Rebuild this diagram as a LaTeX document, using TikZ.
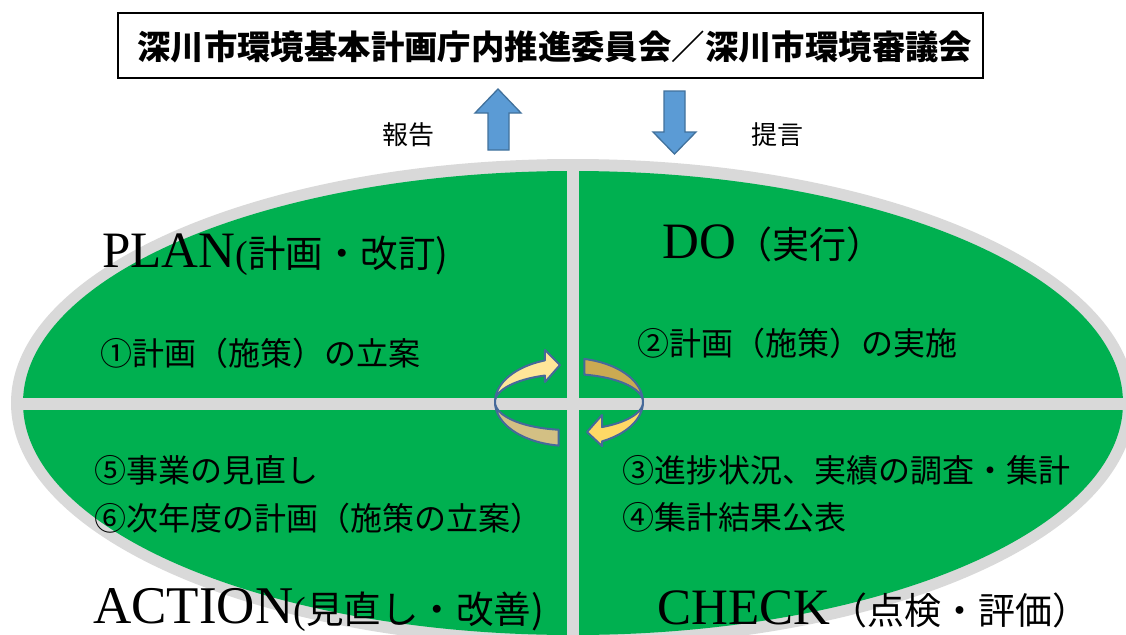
\documentclass[tikz,border=0pt]{standalone}
\usepackage{fontspec}
\setmainfont{Liberation Serif}
\newfontfamily\jp{Noto Sans CJK JP}
\definecolor{pgreen}{HTML}{00B050}
\definecolor{egrey}{HTML}{D9D9D9}
\definecolor{arrblue}{HTML}{5B9BD5}
\definecolor{arrline}{HTML}{41719C}
\definecolor{ringline}{HTML}{46699A}
\definecolor{lyellow}{HTML}{FFE699}
\definecolor{ltan}{HTML}{D3C084}
\definecolor{ryellow}{HTML}{FFD966}
\definecolor{rtan}{HTML}{CBAA52}
\tikzset{
  body/.style={anchor=west, inner sep=0pt, font=\jp\fontsize{32}{38}\selectfont},
  headline/.style={anchor=base west, inner sep=0pt},
  sidelabel/.style={inner sep=0pt, font=\jp\fontsize{26}{30}\selectfont},
  blockarrow/.style={fill=arrblue, draw=arrline, line width=1.3pt, line join=miter},
}
\newcommand{\bigL}{\fontsize{51}{60}\selectfont}
\newcommand{\bigLL}{\fontsize{53}{60}\selectfont}
\newcommand{\parL}{\fontsize{38}{44}\selectfont}
\newcommand{\jpH}{\jp\fontsize{37.5}{42}\selectfont}
\newcommand{\jpHH}{\jp\fontsize{37}{42}\selectfont}
\def\cx{569}\def\cy{402}\def\rx{74}\def\ro{44}\def\ri{28}
\begin{document}
\begin{tikzpicture}[x=1pt,y=-1pt]
\useasboundingbox (0,0) rectangle (1126,634);
\clip (0,0) rectangle (1126,634);
\fill[white] (0,0) rectangle (1126,634);

% big ellipse with four quadrants
\fill[egrey] (573,403) ellipse [x radius=562pt, y radius=244pt];
\fill[pgreen] (573,403) ellipse [x radius=550pt, y radius=232pt];
\begin{scope}
  \clip (573,403) ellipse [x radius=562pt, y radius=244pt];
  \fill[egrey] (567,150) rectangle (579,660);
  \fill[egrey] (0,398) rectangle (1140,410);
\end{scope}

% top box
\node[draw=black, line width=1.6pt, fill=white, minimum width=865pt,
      minimum height=65pt, anchor=north west, inner sep=0pt] (council) at (117,12) {};
\node[anchor=west, inner sep=0pt, font=\jp\bfseries\fontsize{33.4}{40}\selectfont]
      (counciltext) at ([xshift=20pt,yshift=-2pt]council.west)
      {深川市環境基本計画庁内推進委員会／深川市環境審議会};

% block arrows
\draw[blockarrow] (488,150) -- (488,113) -- (475,113) -- (498,89) -- (521,113)
   -- (509,113) -- (509,150) -- cycle;
\draw[blockarrow] (664,91) -- (685,91) -- (685,132) -- (696,132) -- (674.5,154)
   -- (653,132) -- (664,132) -- cycle;
\node[sidelabel] (report) at (408,135) {報告};
\node[sidelabel] (advice) at (777,135) {提言};

% headings
\node[headline] (plan) at (102,267)
  {\bigL PLAN\parL(\jpH 計画・改訂\parL)};
\node[headline] (do) at (662,258)
  {\bigL DO\jpHH（実行）};
\node[headline] (action) at (93,623)
  {\bigLL ACTION\parL(\jpH 見直し・改善\parL)};
\node[headline] (check) at (657,624)
  {\bigL CHECK\jpHH（点検・評価）};

% body texts
\node[body] (t1) at (100,353) {①計画（施策）の立案};
\node[body] (t2) at (637,343) {②計画（施策）の実施};
\node[body] (t5) at (94,470) {⑤事業の見直し};
\node[body] (t6) at (94,518) {⑥次年度の計画（施策の立案）};
\node[body] (t3) at (622,470) {③進捗状況、実績の調査・集計};
\node[body] (t4) at (622,517) {④集計結果公表};

% cycle arrows
% left arrow
\fill[lyellow]
  plot[domain=98:251, samples=50] ({\cx+\rx*cos(\x)},{\cy+\ro*sin(\x)})
  -- (545,350) -- (560,365) -- (545,382)
  -- plot[domain=251:98, samples=50] ({\cx+\rx*cos(\x)},{\cy+\ri*sin(\x)}) -- cycle;
\fill[ltan]
  plot[domain=98:180, samples=40] ({\cx+\rx*cos(\x)},{\cy+\ro*sin(\x)})
  -- plot[domain=180:98, samples=40] ({\cx+\rx*cos(\x)},{\cy+\ri*sin(\x)}) -- cycle;
\draw[ringline, line width=2pt, line join=round]
  plot[domain=98:251, samples=50] ({\cx+\rx*cos(\x)},{\cy+\ro*sin(\x)})
  -- (545,350) -- (560,365) -- (545,382)
  -- plot[domain=251:98, samples=50] ({\cx+\rx*cos(\x)},{\cy+\ri*sin(\x)}) -- cycle;
% right arrow
\fill[ryellow]
  plot[domain=282:423.5, samples=50] ({\cx+\rx*cos(\x)},{\cy+\ro*sin(\x)})
  -- (602,446) -- (587,432) -- (602,415)
  -- plot[domain=423.5:282, samples=50] ({\cx+\rx*cos(\x)},{\cy+\ri*sin(\x)}) -- cycle;
\fill[rtan]
  plot[domain=282:360, samples=40] ({\cx+\rx*cos(\x)},{\cy+\ro*sin(\x)})
  -- plot[domain=360:282, samples=40] ({\cx+\rx*cos(\x)},{\cy+\ri*sin(\x)}) -- cycle;
\draw[ringline, line width=2pt, line join=round]
  plot[domain=282:423.5, samples=50] ({\cx+\rx*cos(\x)},{\cy+\ro*sin(\x)})
  -- (602,446) -- (587,432) -- (602,415)
  -- plot[domain=423.5:282, samples=50] ({\cx+\rx*cos(\x)},{\cy+\ri*sin(\x)}) -- cycle;
\end{tikzpicture}
\end{document}
